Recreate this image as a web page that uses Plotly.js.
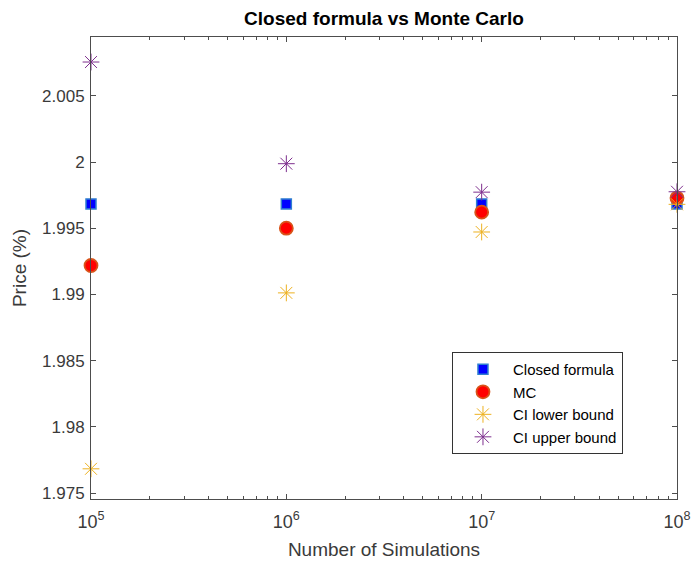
<!DOCTYPE html>
<html>
<head>
<meta charset="utf-8">
<script src="https://cdn.plot.ly/plotly-3.0.1.min.js"></script>
<style>
  html, body { margin: 0; padding: 0; background: #fff; }
  #chart { width: 692px; height: 561px; }
</style>
</head>
<body>
<div id="chart"></div>
<script>
// Number of Monte Carlo paths
const nSims = [1e5, 1e6, 1e7, 1e8];

// Option price (%) from the closed formula and from the simulation
const closedPrice = [1.99684, 1.99684, 1.99684, 1.99684];
const mcPrice     = [1.99219, 1.99501, 1.99622, 1.99728];

// 95% confidence interval of the Monte Carlo estimate
const ciLower = [1.97683, 1.99012, 1.99472, 1.99681];
const ciUpper = [2.00756, 1.99988, 1.99773, 1.99776];

// Axis ticks
const xTickVals = [1e5, 1e6, 1e7, 1e8];
const xTickText = ['10<sup>5</sup>', '10<sup>6</sup>', '10<sup>7</sup>', '10<sup>8</sup>'];
const yTickVals = [1.975, 1.98, 1.985, 1.99, 1.995, 2, 2.005];
const yTickText = ['1.975', '1.98', '1.985', '1.99', '1.995', '2', '2.005'];

// Minor log ticks at 2..9 within each decade
const xMinorVals = [];
for (let k = 0; k < xTickVals.length - 1; k++) {
  for (let m = 2; m <= 9; m++) xMinorVals.push(m * xTickVals[k]);
}

const font = 'Liberation Sans, Arial, Helvetica, sans-serif';
const axisColor = '#4d4d4d';
const textColor = '#3a3a3a';

const traces = [
  {
    x: nSims, y: closedPrice, name: 'Closed formula', legendgroup: 'a',
    mode: 'markers', type: 'scatter', cliponaxis: false,
    marker: { symbol: 'square', size: 10, color: '#0000ff', line: { color: '#2f7fd0', width: 1.5 } }
  },
  {
    x: nSims, y: mcPrice, name: 'MC', legendgroup: 'b',
    mode: 'markers', type: 'scatter', cliponaxis: false,
    marker: { symbol: 'circle', size: 13, color: '#ff0000', line: { color: '#d95319', width: 1.8 } }
  },
  {
    x: nSims, y: ciLower, name: 'CI lower bound', legendgroup: 'c',
    mode: 'markers', type: 'scatter', cliponaxis: false,
    marker: { symbol: 'asterisk-open', size: 14, color: '#edb120', line: { color: '#edb120', width: 1 } }
  },
  {
    x: nSims, y: ciUpper, name: 'CI upper bound', legendgroup: 'd',
    mode: 'markers', type: 'scatter', cliponaxis: false,
    marker: { symbol: 'asterisk-open', size: 14, color: '#7e2f8e', line: { color: '#7e2f8e', width: 1 } }
  }
];

const layout = {
  width: 692, height: 561,
  margin: { l: 91, r: 15, t: 37, b: 62 },
  paper_bgcolor: '#ffffff', plot_bgcolor: '#ffffff',
  font: { family: font, size: 16, color: textColor },
  showlegend: true,
  title: {
    text: '<b>Closed formula vs Monte Carlo</b>',
    font: { family: font, size: 19, color: '#000000' },
    x: 0.5, xref: 'paper', xanchor: 'center',
    y: 1 - 18 / 561, yref: 'container', yanchor: 'middle'
  },
  xaxis: {
    type: 'log', range: [5, 8],
    tickmode: 'array', tickvals: xTickVals, ticktext: xTickText,
    ticks: 'inside', ticklen: 5, tickcolor: axisColor, tickwidth: 1,
    ticklabelstandoff: 6,
    minor: { tickmode: 'array', tickvals: xMinorVals, ticks: 'inside', ticklen: 3, tickcolor: axisColor, showgrid: false },
    showline: true, linecolor: axisColor, linewidth: 1, mirror: 'ticks',
    showgrid: false, zeroline: false,
    tickfont: { family: font, size: 18, color: textColor },
    title: { text: 'Number of Simulations', standoff: 12, font: { family: font, size: 19, color: textColor } }
  },
  yaxis: {
    range: [1.97455, 2.00945],
    tickmode: 'array', tickvals: yTickVals, ticktext: yTickText,
    ticks: 'inside', ticklen: 5, tickcolor: axisColor, tickwidth: 1,
    ticklabelstandoff: 2,
    showline: true, linecolor: axisColor, linewidth: 1, mirror: 'ticks',
    showgrid: false, zeroline: false,
    tickfont: { family: font, size: 17, color: textColor },
    title: { text: 'Price (%)', standoff: 10, font: { family: font, size: 19, color: textColor } }
  },
  legend: {
    x: 0.616, y: 0.318, xanchor: 'left', yanchor: 'top',
    bgcolor: '#ffffff', bordercolor: '#333333', borderwidth: 1,
    font: { family: font, size: 15, color: '#000000' },
    itemwidth: 50, tracegroupgap: 0
  }
};

Plotly.newPlot('chart', traces, layout, { displayModeBar: false, staticPlot: true });
</script>
</body>
</html>
